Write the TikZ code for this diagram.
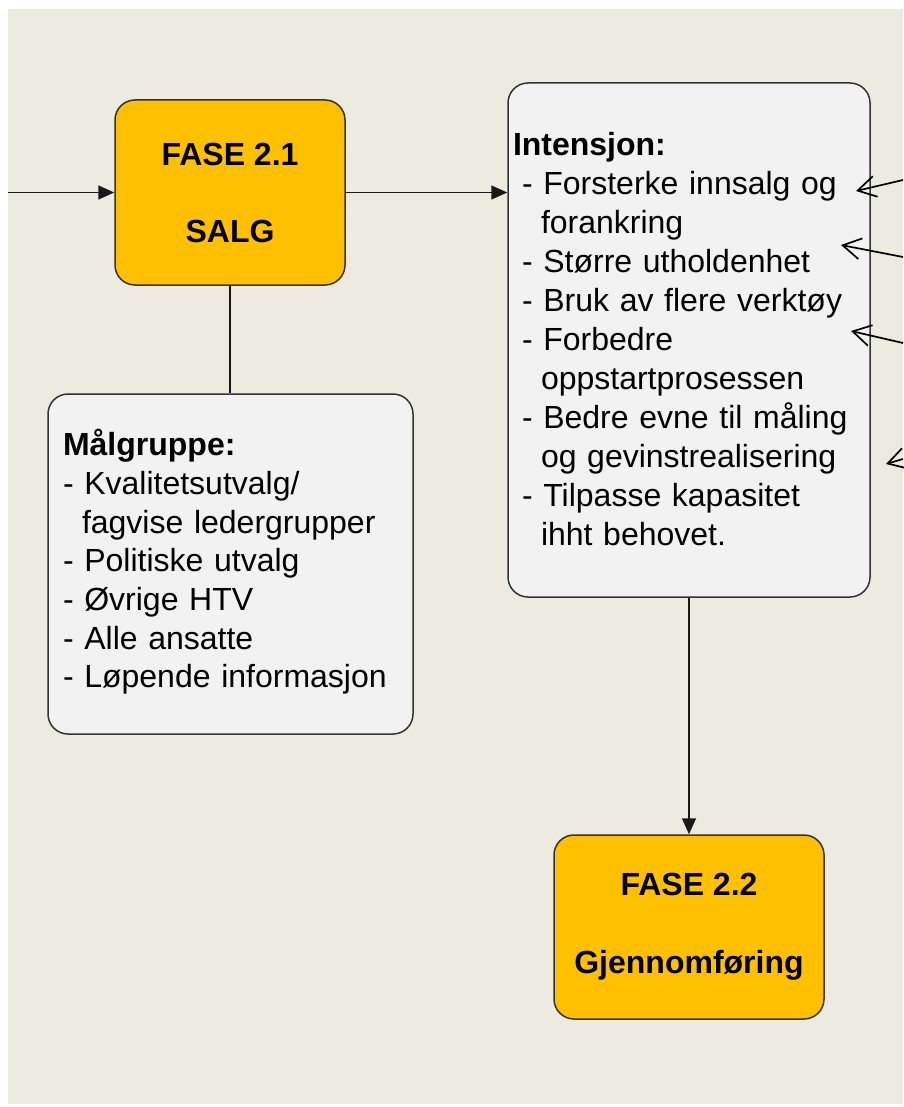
\documentclass[tikz,border=0pt]{standalone}
\usepackage{fontspec}
\setmainfont{Liberation Sans}
\usetikzlibrary{arrows.meta}
\definecolor{bg}{HTML}{EDEAE0}
\definecolor{orangefill}{HTML}{FFC000}
\definecolor{boxfill}{HTML}{F2F2F2}
\definecolor{edge}{HTML}{333333}
\begin{document}
\begin{tikzpicture}[x=1pt,y=-1pt,
  phase/.style={draw=edge, line width=1.5pt, fill=orangefill, rounded corners=20pt,
    align=center, font=\fontsize{32pt}{39pt}\selectfont\bfseries, inner sep=0pt},
  infobox/.style={draw=edge, line width=1.5pt, fill=boxfill, rounded corners=20pt, inner sep=0pt},
  infotext/.style={align=left, font=\fontsize{32pt}{39pt}\selectfont, inner sep=0pt},
  link/.style={line width=1.5pt, draw=black!90},
  flow/.style={link, -{Triangle[length=16pt,width=14pt]}},
  note/.style={line width=1.7pt, draw=black, -{Straight Barb[length=18pt,width=21pt]}}]
\useasboundingbox (0,0) rectangle (903,1107);
\fill[white] (0,0) rectangle (903,1107);
\fill[bg] (8,9) rectangle (903,1104);

% phase boxes
\node[phase, minimum width=230pt, minimum height=185pt] (f21) at (230,192.5) {FASE 2.1\\[38pt]SALG};
\node[phase, minimum width=270pt, minimum height=184pt] (f22) at (689,927) {FASE 2.2\\[39pt]Gjennomføring};

% info boxes
\node[infobox, minimum width=362pt, minimum height=514pt] (int) at (689,340) {};
\node[infotext, text width=352pt, yshift=1pt] (intT) at (int.center) {%
\textbf{Intensjon:}\\
\hspace*{9pt}- Forsterke innsalg og\\
\hspace*{28pt}forankring\\
\hspace*{9pt}- Større utholdenhet\\
\hspace*{9pt}- Bruk av flere verktøy\\
\hspace*{9pt}- Forbedre\\
\hspace*{28pt}oppstartprosessen\\
\hspace*{9pt}- Bedre evne til måling\\
\hspace*{28pt}og gevinstrealisering\\
\hspace*{9pt}- Tilpasse kapasitet\\
\hspace*{28pt}ihht behovet.};

\node[infobox, minimum width=365pt, minimum height=340pt] (mal) at (230.5,564) {};
\node[infotext, text width=335pt, yshift=2pt, font=\fontsize{32pt}{38.7pt}\selectfont] (malT) at (mal.center) {%
\textbf{Målgruppe:}\\
- Kvalitetsutvalg/\\
\hspace*{19pt}fagvise ledergrupper\\
- Politiske utvalg\\
- Øvrige HTV\\
- Alle ansatte\\
- Løpende informasjon};

% connectors
\coordinate (in) at (8,192.5);
\draw[flow] (in) -- (f21.west);
\draw[flow] (f21.east) -- (f21.east -| int.west);
\draw[link] (f21.south) -- (f21.south |- mal.north);
\draw[flow] (int.south) -- (f22.north);

% incoming note arrows from the right
\coordinate (r1) at (903,180);  \coordinate (t1) at (856,191);
\coordinate (r2) at (903,257);  \coordinate (t2) at (841,245);
\coordinate (r3) at (903,343);  \coordinate (t3) at (851,331);
\coordinate (r4) at (903,459);  \coordinate (t4) at (886,464);
\draw[note] (r1) -- (t1);
\draw[note] (r2) -- (t2);
\draw[note] (r3) -- (t3);
\draw[note] (r4) -- (t4);
\end{tikzpicture}
\end{document}
